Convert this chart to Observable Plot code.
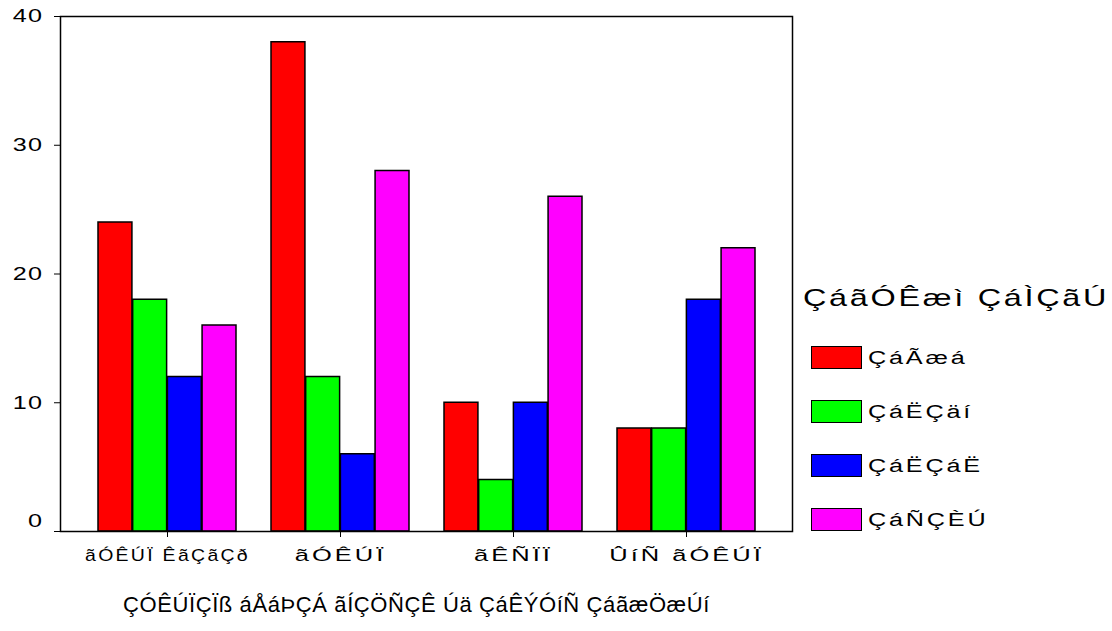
<!DOCTYPE html>
<html>
<head>
<meta charset="utf-8">
<script src="https://cdn.jsdelivr.net/npm/d3@7"></script>
<script src="https://cdn.jsdelivr.net/npm/@observablehq/plot@0.6"></script>
<style>
  body { margin: 0; background: #fff; overflow: hidden; }
  #wrap { position: relative; width: 1112px; height: 631px; overflow: hidden; font-family: "Liberation Sans", Arial, sans-serif; color: #000; }
  #chart { position: absolute; left: 0; top: 0; }
  #xtitle { position: absolute; left: 123px; top: 592px; font-size: 22px; line-height: 26px; letter-spacing: 0.6px; white-space: nowrap; }
  #ltitle { position: absolute; left: 803px; top: 284px; font-size: 24px; line-height: 28px; letter-spacing: 2px; white-space: nowrap; transform: scaleX(1.35); transform-origin: left center; }
  .sw { position: absolute; left: 811px; width: 49px; height: 21px; border: 1.5px solid #000; }
  .lab { position: absolute; left: 868px; font-size: 18px; line-height: 22px; letter-spacing: 2px; white-space: nowrap; transform: scaleX(1.4); transform-origin: left center; }
</style>
</head>
<body>
<div id="wrap"><div id="chart"></div></div>
<script>
const groups = ["ãÓÊÚÏ ÊãÇãÇð", "ãÓÊÚÏ", "ãÊÑÏÏ", "ÛíÑ ãÓÊÚÏ"];
const seriesNames = ["ÇáÃæá", "ÇáËÇäí", "ÇáËÇáË", "ÇáÑÇÈÚ"];
const series1 = [24, 38, 10, 8];
const series2 = [18, 12, 4, 8];
const series3 = [12, 6, 10, 18];
const series4 = [16, 28, 26, 22];
const seriesColors = ["#ff0000", "#00ff00", "#0000ff", "#ff00ff"];
const yTicks = [0, 10, 20, 30, 40];
const legendTitle = "ÇáãÓÊæì ÇáÌÇãÚ";
const xTitle = "ÇÓÊÚÏÇÏß áÅáÞÇÁ ãÍÇÖÑÇÊ Úä ÇáÊÝÓíÑ ÇáãæÖæÚí";

const allSeries = [series1, series2, series3, series4];

const W = 800, H = 570, mL = 60, mR = 8, mT = 16, mB = 39;
const pInner = 0.2, pOuter = 0.21;
const step = (W - mL - mR) / (groups.length - pInner + 2 * pOuter);
const q = step * (1 - pInner) / allSeries.length;

const barMarks = allSeries.map((vals, k) =>
  Plot.barY(groups.map((g, i) => ({group: g, value: vals[i]})), {
    x: "group", y: "value",
    fill: seriesColors[k], stroke: "#000", strokeWidth: 1.5,
    insetLeft: k * q, insetRight: (allSeries.length - 1 - k) * q
  })
);

const svg = Plot.plot({
  width: W, height: H,
  marginLeft: mL, marginRight: mR, marginTop: mT, marginBottom: mB,
  style: {background: "#fff", color: "#000", fontFamily: "Liberation Sans, Arial, sans-serif"},
  x: {domain: groups, paddingInner: pInner, paddingOuter: pOuter, align: 0.51, tickSize: 6, tickPadding: 11, label: null},
  y: {domain: [0, 40], ticks: yTicks, tickSize: 6, tickPadding: 11, label: null},
  marks: [
    ...barMarks,
    Plot.frame({stroke: "#000", strokeWidth: 1.5})
  ]
});
document.getElementById("chart").appendChild(svg);

// enlarge the tick labels and widen their glyphs with textLength (capped to fit the band)
function widen(sel, s, fontSize, spacing, maxW, dyFor) {
  const g = svg.querySelector(sel);
  if (!g) return;
  g.setAttribute("font-size", fontSize);
  g.setAttribute("font-family", "Liberation Sans, Arial, sans-serif");
  g.setAttribute("fill", "#000");
  g.querySelectorAll("text").forEach(t => {
    t.setAttribute("letter-spacing", spacing);
    t.style.letterSpacing = spacing + "px";
    if (dyFor) { const d = dyFor(t); if (d) t.setAttribute("dy", d); }
    const w = t.getComputedTextLength();
    t.setAttribute("textLength", Math.min(w * s, maxW).toFixed(1));
    t.setAttribute("lengthAdjust", "spacingAndGlyphs");
  });
}
widen('g[aria-label="x-axis tick label"]', 1.5, 17, 2, 165);
widen('g[aria-label="y-axis tick label"]', 1.4, 18, 1, 100, t => t.textContent.trim() === "0" ? -10 : 0);

const wrap = document.getElementById("wrap");
const xt = document.createElement("div");
xt.id = "xtitle"; xt.textContent = xTitle; wrap.appendChild(xt);
const lt = document.createElement("div");
lt.id = "ltitle"; lt.textContent = legendTitle; wrap.appendChild(lt);
const swTops = 346, swStep = 54;
seriesNames.forEach((name, k) => {
  const sw = document.createElement("div");
  sw.className = "sw";
  sw.style.top = (swTops + k * swStep) + "px";
  sw.style.background = seriesColors[k];
  wrap.appendChild(sw);
  const lb = document.createElement("div");
  lb.className = "lab";
  lb.style.top = (swTops + k * swStep + 1) + "px";
  lb.textContent = name;
  wrap.appendChild(lb);
});
</script>
</body>
</html>
